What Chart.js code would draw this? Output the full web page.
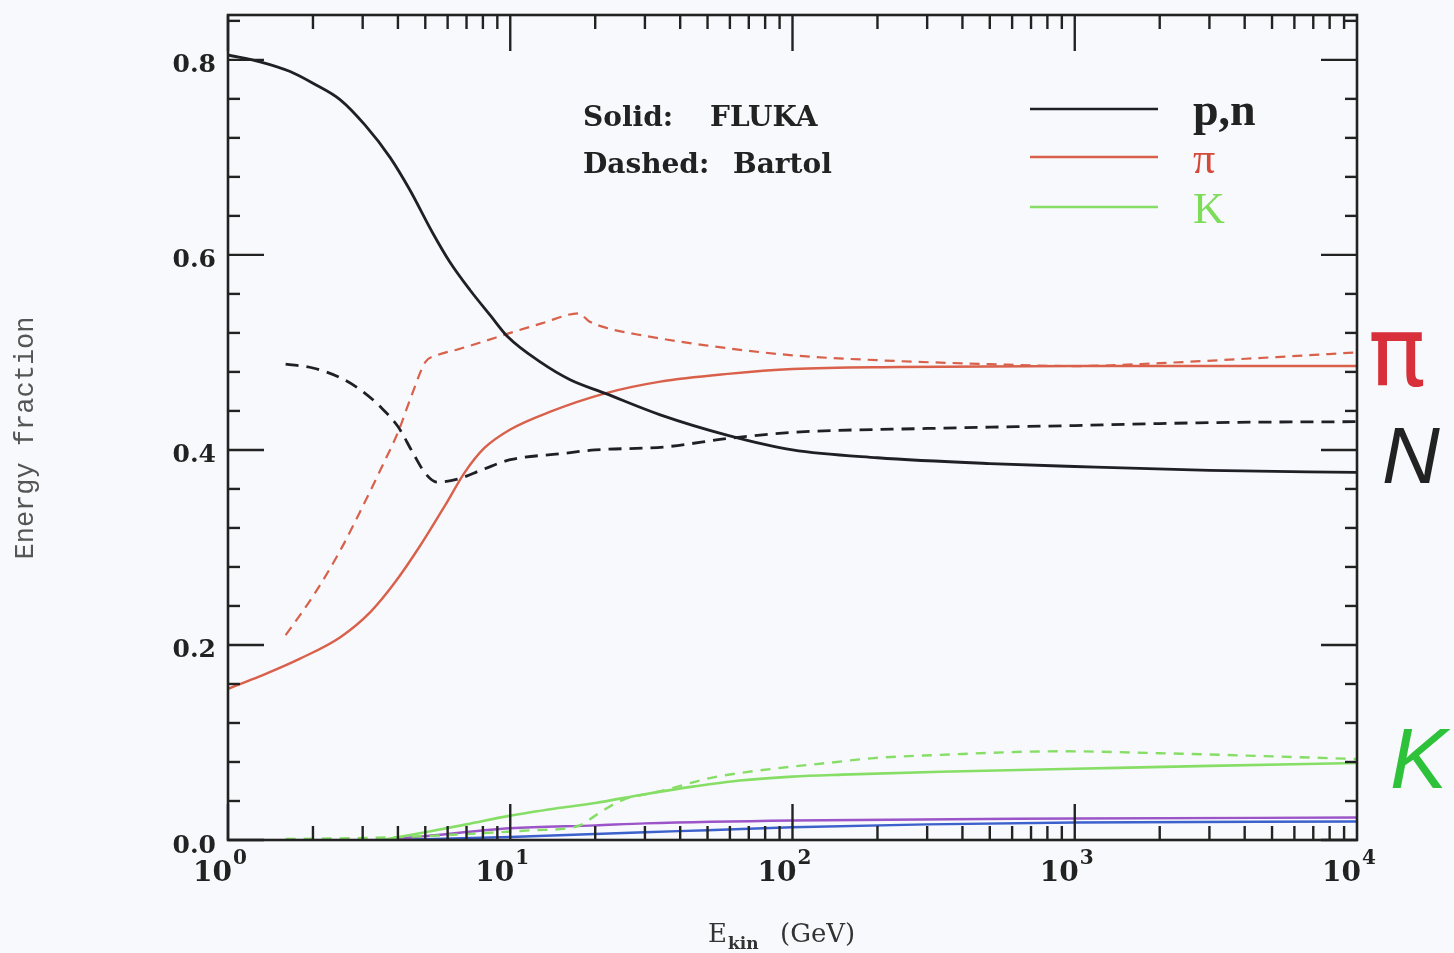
<!DOCTYPE html>
<html>
<head>
<meta charset="utf-8">
<title>Energy fraction of secondaries</title>
<script src="https://cdn.jsdelivr.net/npm/chart.js@4/dist/chart.umd.min.js"></script>
<style>
  html, body { margin: 0; padding: 0; background: #f8f9fc; }
  #wrap { width: 1454px; height: 953px; position: relative; }
</style>
</head>
<body>
<div id="wrap"><canvas id="c"></canvas></div>
<script>
// Energy fraction carried by secondary nucleons, pions and kaons
// versus projectile kinetic energy (GeV). Solid = FLUKA, dashed = Bartol.

// nucleons (p,n)
const pnFlukaE  = [1, 1.3, 1.66, 2, 2.5, 3.06, 3.75, 4.4, 5.3, 6.1, 7.2, 8.5, 9.8, 12.8, 16.3, 21.7, 34, 59, 100, 200, 500, 1000, 3000, 10000];
const pnFlukaY  = [0.805, 0.798, 0.788, 0.776, 0.759, 0.733, 0.700, 0.667, 0.623, 0.593, 0.564, 0.538, 0.516, 0.490, 0.472, 0.458, 0.436, 0.415, 0.400, 0.392, 0.386, 0.383, 0.379, 0.377];
const pnBartolE = [1.6, 2, 2.5, 3, 3.5, 4, 4.5, 5, 5.5, 6.5, 8, 10, 15, 20, 35, 60, 100, 300, 1000, 3000, 10000];
const pnBartolY = [0.488, 0.484, 0.474, 0.460, 0.443, 0.424, 0.398, 0.376, 0.367, 0.370, 0.380, 0.390, 0.396, 0.400, 0.403, 0.412, 0.418, 0.422, 0.425, 0.428, 0.429];

// pions
const piFlukaE  = [1, 1.3, 1.8, 2.5, 3.2, 3.9, 4.8, 5.9, 6.9, 8.1, 10, 13.8, 21.7, 34, 59, 100, 240, 1000, 3000, 10000];
const piFlukaY  = [0.155, 0.168, 0.186, 0.208, 0.234, 0.264, 0.302, 0.344, 0.377, 0.402, 0.421, 0.439, 0.458, 0.470, 0.478, 0.483, 0.485, 0.486, 0.486, 0.486];
const piBartolE = [1.6, 2, 2.5, 3, 3.5, 4, 4.5, 5, 5.5, 6.5, 8, 10, 13, 17.5, 19, 22, 30, 50, 100, 200, 500, 1000, 2000, 5000, 10000];
const piBartolY = [0.210, 0.250, 0.297, 0.342, 0.382, 0.418, 0.458, 0.490, 0.497, 0.503, 0.511, 0.520, 0.530, 0.540, 0.532, 0.525, 0.517, 0.507, 0.497, 0.492, 0.488, 0.486, 0.489, 0.495, 0.500];

// kaons
const kFlukaE   = [3.5, 5, 7, 10, 15, 20, 30, 45, 65, 100, 150, 335, 1000, 3000, 10000];
const kFlukaY   = [0.000, 0.008, 0.016, 0.025, 0.033, 0.038, 0.047, 0.055, 0.061, 0.065, 0.067, 0.070, 0.073, 0.076, 0.079];
const kBartolE  = [1.6, 3, 5, 8, 12, 16, 18, 20, 25, 34, 52, 85, 133, 194, 315, 900, 2000, 4700, 10000];
const kBartolY  = [0.001, 0.002, 0.004, 0.007, 0.010, 0.012, 0.016, 0.025, 0.041, 0.050, 0.064, 0.073, 0.079, 0.084, 0.087, 0.091, 0.089, 0.086, 0.083];

// two minor components close to zero
const minorAE   = [3.5, 5, 10, 20, 30, 100, 1000, 10000];
const minorAY   = [0.000, 0.004, 0.012, 0.015, 0.017, 0.020, 0.022, 0.023];
const minorBE   = [3.5, 10, 30, 50, 100, 300, 1000, 10000];
const minorBY   = [0.000, 0.003, 0.008, 0.010, 0.013, 0.016, 0.018, 0.019];

// axes
const xTickValues    = [1, 10, 100, 1000, 10000];
const xTickExponents = ['0', '1', '2', '3', '4'];
const yTickValues    = [0, 0.2, 0.4, 0.6, 0.8];
const legendLabels   = ['p,n', 'π', 'K'];

const BLACK = '#1f1f25', RED = '#d9604a', GREEN = '#86de66', PURPLE = '#9b55c8', BLUE = '#3c60cc';

const pts = (xs, ys) => xs.map((x, i) => ({ x, y: ys[i] }));

function series(label, xs, ys, color, width, dash) {
  return {
    label, data: pts(xs, ys),
    borderColor: color, backgroundColor: color,
    borderWidth: width, borderDash: dash || [],
    pointRadius: 0, fill: false,
    cubicInterpolationMode: 'monotone', tension: 0.4
  };
}

const datasets = [
  series('p,n', pnFlukaE, pnFlukaY, BLACK, 2.8),
  series('π', piFlukaE, piFlukaY, RED, 2.4),
  series('K', kFlukaE, kFlukaY, GREEN, 2.6),
  series('p,n Bartol', pnBartolE, pnBartolY, BLACK, 2.8, [13, 8]),
  series('π Bartol', piBartolE, piBartolY, RED, 2.2, [10, 7]),
  series('K Bartol', kBartolE, kBartolY, GREEN, 2.4, [10, 8]),
  series('minor a', minorAE, minorAY, PURPLE, 2.4),
  series('minor b', minorBE, minorBY, BLUE, 2.4)
];

function line(ctx, x1, y1, x2, y2) {
  ctx.beginPath(); ctx.moveTo(x1, y1); ctx.lineTo(x2, y2); ctx.stroke();
}

// page background, boxed frame with inward ticks, tick labels, titles and key
const decorations = {
  id: 'decorations',
  beforeDraw(chart) {
    const { ctx, width, height } = chart;
    ctx.save();
    ctx.fillStyle = '#f8f9fc';
    ctx.fillRect(0, 0, width, height);
    ctx.restore();
  },
  afterDraw(chart) {
    const { ctx, chartArea: a, scales: { x, y } } = chart;
    ctx.save();
    ctx.strokeStyle = '#222';
    ctx.lineWidth = 2.6;
    ctx.strokeRect(a.left, a.top, a.right - a.left, a.bottom - a.top);

    // vertical axis ticks, both sides
    ctx.lineWidth = 2.4;
    for (let k = 0; k * 0.04 <= y.max + 1e-9; k++) {
      const py = y.getPixelForValue(k * 0.04);
      const len = (k % 5 === 0) ? 36 : 12;
      line(ctx, a.left, py, a.left + len, py);
      line(ctx, a.right, py, a.right - len, py);
    }
    // horizontal axis ticks, top and bottom
    for (let d = 0; d < 4; d++) {
      for (let m = 1; m <= 9; m++) {
        const px = x.getPixelForValue(m * Math.pow(10, d));
        const len = (m === 1) ? 36 : 14;
        line(ctx, px, a.bottom, px, a.bottom - len);
        line(ctx, px, a.top, px, a.top + len);
      }
    }

    // value labels on the vertical axis
    ctx.fillStyle = '#222';
    ctx.font = 'bold 25px "DejaVu Serif"';
    ctx.textAlign = 'right';
    ctx.textBaseline = 'middle';
    yTickValues.forEach(v => {
      ctx.fillText(v.toFixed(1), a.left - 12, y.getPixelForValue(v) + 6);
    });

    // vertical axis title
    ctx.save();
    ctx.translate(26, 438);
    ctx.rotate(-Math.PI / 2);
    ctx.textAlign = 'center';
    ctx.fillStyle = '#555';
    ctx.font = '27px "Liberation Mono"';
    ctx.fillText('Energy fraction', 0, 0);
    ctx.restore();

    // decade labels 10^n
    ctx.textBaseline = 'alphabetic';
    xTickValues.forEach((v, i) => {
      const px = x.getPixelForValue(v);
      ctx.font = 'bold 28px "DejaVu Serif"';
      ctx.textAlign = 'right';
      ctx.fillText('10', px + 4, 881);
      ctx.font = 'bold 20px "DejaVu Serif"';
      ctx.textAlign = 'left';
      ctx.fillText(xTickExponents[i], px + 5, 864);
    });

    // x axis title with subscript
    ctx.fillStyle = '#333';
    ctx.textAlign = 'left';
    ctx.font = '26px "DejaVu Serif"';
    ctx.fillText('E', 708, 942);
    ctx.font = 'bold 17px "DejaVu Serif"';
    ctx.fillText('kin', 728, 949);
    ctx.font = '26px "DejaVu Serif"';
    ctx.fillText('(GeV)', 780, 942);

    // model note
    ctx.fillStyle = '#222';
    ctx.font = 'bold 28px "DejaVu Serif"';
    ctx.fillText('Solid:', 583, 126);
    ctx.fillText('FLUKA', 710, 126);
    ctx.fillText('Dashed:', 583, 173);
    ctx.fillText('Bartol', 733, 173);

    // key
    const keyColors = [BLACK, RED, GREEN];
    const keyY = [109, 157, 207];
    const keyFonts = ['bold 46px "Liberation Serif"', '44px "Liberation Serif"', '44px "Liberation Serif"'];
    const keyBase = [125, 173, 223];
    legendLabels.forEach((lab, i) => {
      ctx.strokeStyle = keyColors[i];
      ctx.lineWidth = 2.6;
      line(ctx, 1030, keyY[i], 1158, keyY[i]);
      ctx.fillStyle = i === 0 ? '#222' : (i === 1 ? '#d44a3a' : '#7ddc58');
      ctx.font = keyFonts[i];
      ctx.fillText(lab, 1193, keyBase[i]);
    });

    // margin tags next to the curves
    ctx.font = '96px "DejaVu Sans"';
    ctx.fillStyle = '#d8303a';
    ctx.fillText('π', 1368, 386);
    ctx.font = 'italic 80px "Liberation Sans"';
    ctx.fillStyle = '#222';
    ctx.fillText('N', 1382, 483);
    ctx.font = 'italic 86px "Liberation Sans"';
    ctx.fillStyle = '#2ec23a';
    ctx.fillText('K', 1390, 788);
    ctx.restore();
  }
};

new Chart(document.getElementById('c'), {
  type: 'line',
  data: { datasets },
  options: {
    responsive: true,
    maintainAspectRatio: false,
    animation: false,
    events: [],
    layout: { padding: { left: 0, right: 97, top: 15, bottom: 0 } },
    plugins: { legend: { display: false }, tooltip: { enabled: false } },
    scales: {
      x: {
        type: 'logarithmic',
        min: 1, max: 10000,
        grid: { display: false },
        border: { display: false },
        ticks: { display: false },
        afterBuildTicks: s => { s.ticks = xTickValues.map(v => ({ value: v })); },
        afterFit: s => { s.height = 113; }
      },
      y: {
        type: 'linear',
        min: 0, max: 0.846,
        grid: { display: false, drawTicks: false },
        border: { display: false },
        ticks: { display: false },
        afterBuildTicks: s => { s.ticks = yTickValues.map(v => ({ value: v })); },
        afterFit: s => { s.width = 228; }
      }
    }
  },
  plugins: [decorations]
});
</script>
</body>
</html>
